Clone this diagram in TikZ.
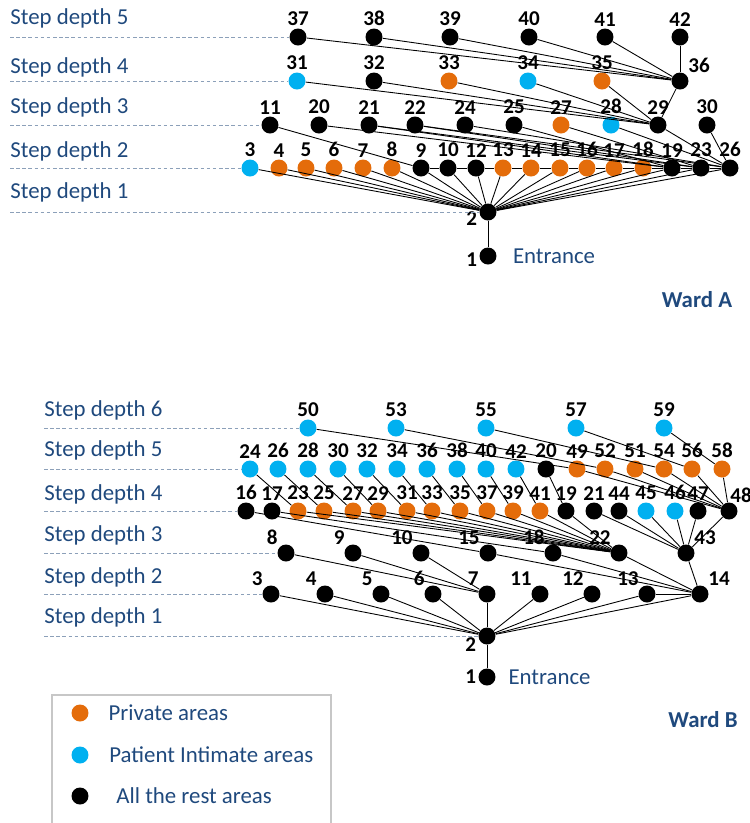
\documentclass[tikz,border=0pt]{standalone}
\usepackage{fontspec}
\setmainfont{Carlito}
\usetikzlibrary{positioning}

\definecolor{privorange}{RGB}{228,108,10}
\definecolor{intimcyan}{RGB}{0,176,240}
\definecolor{wardblue}{RGB}{31,73,125}
\definecolor{guidegray}{RGB}{140,160,185}

\begin{document}
\begin{tikzpicture}[x=0.02cm, y=-0.02cm,
    dot/.style={circle, inner sep=0pt, minimum size=0.34cm},
    priv/.style={dot, fill=privorange},
    intim/.style={dot, fill=intimcyan},
    rest/.style={dot, fill=black},
    num/.style={font=\fontsize{12}{12}\selectfont\bfseries, inner sep=1pt},
    depthtext/.style={font=\fontsize{13}{15}\selectfont, text=wardblue, anchor=west, inner sep=0pt},
    guide/.style={guidegray, dash pattern=on 2pt off 1.5pt, line width=0.4pt},
    edge/.style={line width=0.5pt}]

\useasboundingbox (0,0) rectangle (750,823);

%%%%%%%%%% Ward A
\foreach \n/\x/\k in {37/298/rest, 38/374/rest, 39/450/rest, 40/529/rest, 41/605/rest, 42/680/rest}
    \node[\k, label={[num]above:\n}] (a\n) at (\x,37) {};
\foreach \n/\x/\k in {31/297/intim, 32/374/rest, 33/449/priv, 34/528/intim, 35/602/priv}
    \node[\k, label={[num]above:\n}] (a\n) at (\x,81) {};
\node[rest, label={[num]above right:36}] (a36) at (680,81) {};
\foreach \n/\x/\k in {11/270/rest, 20/319/rest, 21/369/rest, 22/415/rest, 24/465/rest,
        25/514/rest, 27/561/priv, 28/611/intim, 29/658/rest, 30/707/rest}
    \node[\k, label={[num]above:\n}] (a\n) at (\x,125) {};
\foreach \n/\x/\k in {3/250/intim, 4/279/priv, 5/306/priv, 6/334/priv, 7/363/priv, 8/392/priv,
        9/421/rest, 10/448/rest, 12/476/rest, 13/503/priv, 14/531/priv, 15/560/priv,
        16/587/priv, 17/614/priv, 18/643/priv, 19/672/rest, 23/701/rest, 26/730/rest}
    \node[\k, label={[num]above:\n}] (a\n) at (\x,168) {};
\node[rest, label={[num, yshift=-3.5pt]left:2}] (a2) at (488,212) {};
\node[rest, label={[num, yshift=-2pt]left:1}] (a1) at (488,256) {};
\node[depthtext, right=9pt of a1] (aentr) {Entrance};
\node[font=\fontsize{13}{15}\selectfont\bfseries, text=wardblue] (wardA) at (697,300) {Ward A};

% step depths
\node[depthtext] (as5) at (10,18) {Step depth 5};
\node[depthtext] (as4) at (10,67) {Step depth 4};
\node[depthtext] (as3) at (10,107) {Step depth 3};
\node[depthtext] (as2) at (10,151) {Step depth 2};
\node[depthtext] (as1) at (10,192) {Step depth 1};
\draw[guide] (10,37) -- (a37);
\draw[guide] (10,81) -- (a31);
\draw[guide] (10,125) -- (a11);
\draw[guide] (10,168) -- (a3);
\draw[guide] (10,212) -- (a2);

\draw[edge] (a1) -- (a2);
\foreach \t in {3,4,5,6,7,8,9,10,12,13,14,15,16,17,18,19,23,26}
    \draw[edge] (a2) -- (a\t);
\foreach \s/\t in {9/10, 10/12, 12/13, 13/14, 14/15, 15/16, 16/17, 17/18, 18/19, 19/23, 23/26}
    \draw[edge] (a\s) -- (a\t);
\foreach \s/\t in {11/9, 20/19, 21/19, 21/23, 22/23, 22/26, 24/26, 25/19, 27/23, 28/26, 29/26, 30/26}
    \draw[edge] (a\s) -- (a\t);
\foreach \s in {31,32,33,34,35,36}
    \draw[edge] (a\s) -- (a29);
\foreach \s in {37,38,39,40,41,42}
    \draw[edge] (a\s) -- (a36);

%%%%%%%%%% Ward B
\foreach \n/\x in {50/308, 53/396, 55/486, 57/576, 59/664}
    \node[intim, label={[num]above:\n}] (b\n) at (\x,428) {};
\foreach \n/\x/\k in {24/250/intim, 26/278/intim, 28/308/intim, 30/338/intim, 32/367/intim,
        34/397/intim, 36/427/intim, 38/457/intim, 40/486/intim, 42/516/intim, 20/546/rest,
        49/577/priv, 52/605/priv, 51/635/priv, 54/664/priv, 56/692/priv, 58/722/priv}
    \node[\k, label={[num]above:\n}] (b\n) at (\x,469) {};
\foreach \n/\x/\k in {16/246/rest, 17/272/rest, 23/298/priv, 25/324/priv, 27/353/priv,
        29/378/priv, 31/407/priv, 33/432/priv, 35/460/priv, 37/487/priv, 39/513/priv,
        41/540/priv, 19/566/rest, 21/594/rest, 44/619/rest, 45/646/intim, 46/675/intim,
        47/698/rest}
    \node[\k, label={[num]above:\n}] (b\n) at (\x,511) {};
\node[rest, label={[num, xshift=-4pt]above right:48}] (b48) at (729,511) {};
\foreach \n/\x in {8/286, 9/353, 10/421, 15/488, 18/553, 22/619}
    \node[rest, label={[num]above left:\n}] (b\n) at (\x,553) {};
\node[rest, label={[num]above right:43}] (b43) at (686,553) {};
\foreach \n/\x in {3/271, 4/325, 5/381, 6/433, 7/487, 11/540, 12/592, 13/647}
    \node[rest, label={[num]above left:\n}] (b\n) at (\x,594) {};
\node[rest, label={[num]above right:14}] (b14) at (700,594) {};
\node[rest, label={[num, yshift=-5pt]left:2}] (b2) at (487,636) {};
\node[rest, label={[num]left:1}] (b1) at (487,677) {};
\node[depthtext, right=7pt of b1] (bentr) {Entrance};
\node[font=\fontsize{13}{15}\selectfont\bfseries, text=wardblue] (wardB) at (703,720) {Ward B};

\node[depthtext] (bs6) at (44,410) {Step depth 6};
\node[depthtext] (bs5) at (44,450) {Step depth 5};
\node[depthtext] (bs4) at (44,494) {Step depth 4};
\node[depthtext] (bs3) at (44,535) {Step depth 3};
\node[depthtext] (bs2) at (44,577) {Step depth 2};
\node[depthtext] (bs1) at (44,617) {Step depth 1};
\draw[guide] (44,428) -- (b50);
\draw[guide] (44,469) -- (b24);
\draw[guide] (44,511) -- (b16);
\draw[guide] (44,553) -- (b8);
\draw[guide] (44,594) -- (b3);
\draw[guide] (44,636) -- (b2);

\draw[edge] (b1) -- (b2);
\foreach \t in {3,4,5,6,7,11,12,13,14}
    \draw[edge] (b2) -- (b\t);
\foreach \s in {8,9,10}
    \draw[edge] (b\s) -- (b7);
\foreach \s in {13,15,18,22,43}
    \draw[edge] (b\s) -- (b14);
\draw[edge] (b16) -- (b15);
\draw[edge] (b17) -- (b18);
\foreach \s in {23,25,27,29,31,33,35,37,39,41,19}
    \draw[edge] (b\s) -- (b22);
\foreach \s in {21,44,45,46,47,48}
    \draw[edge] (b\s) -- (b43);
\foreach \s/\t in {24/23, 26/25, 28/27, 30/29, 32/31, 34/33, 36/35, 38/37, 40/39, 42/41, 20/19}
    \draw[edge] (b\s) -- (b\t);
\foreach \s in {49,52,51,54,56,58}
    \draw[edge] (b\s) -- (b48);
\foreach \s/\t in {50/49, 53/52, 55/54, 57/56, 59/58}
    \draw[edge] (b\s) -- (b\t);

%%%%%%%%%% legend
\draw[black!22, line width=0.8pt] (52,823) -- (52,695) -- (331,695) -- (331,823);
\node[priv] (lpriv) at (80,713) {};
\node[intim] (lintim) at (80,755) {};
\node[rest] (lrest) at (80,796) {};
\node[depthtext, right=11pt of lpriv] {Private areas};
\node[depthtext, right=11.5pt of lintim] {Patient Intimate areas};
\node[depthtext, right=15.5pt of lrest] {All the rest areas};

\end{tikzpicture}
\end{document}
